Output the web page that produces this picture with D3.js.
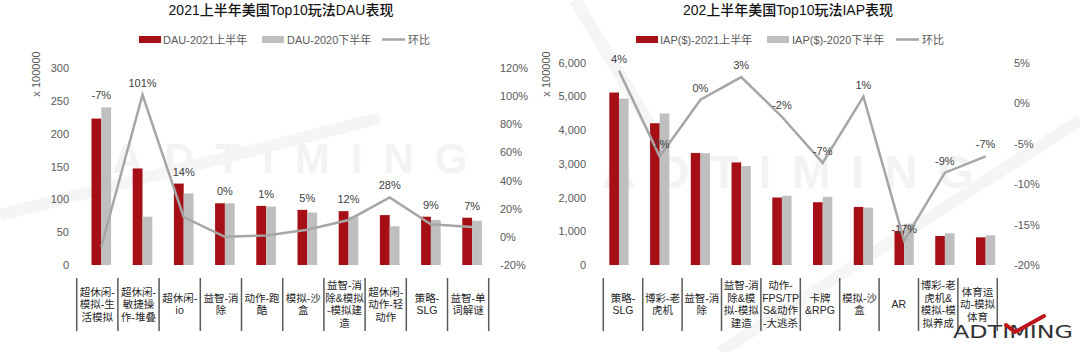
<!DOCTYPE html>
<html>
<head>
<meta charset="utf-8">
<script src="https://cdn.jsdelivr.net/npm/d3@7"></script>
<style>
  body { margin: 0; background: #fff; }
  svg { display: block; font-family: "Liberation Sans", "Noto Sans CJK SC", sans-serif; }
</style>
</head>
<body>
<svg id="chart" width="1080" height="352"></svg>
<script>
// ---- DAU chart data (x 100000) ----
var dauCategories = ["超休闲-\n模拟-生\n活模拟", "超休闲-\n敏捷操\n作-堆叠", "超休闲-\nio", "益智-消\n除", "动作-跑\n酷",
                     "模拟-沙\n盒", "益智-消\n除&模拟\n-模拟建\n造", "超休闲-\n动作-轻\n动作", "策略-\nSLG", "益智-单\n词解谜"];
var dau2021H1 = [223, 147, 124, 94, 90, 84, 82, 76, 73.5, 72];
var dau2020H2 = [240, 73.5, 109, 94, 89, 80, 73.5, 59, 68.5, 67.5];
var dauChange = [-0.07, 1.01, 0.14, 0, 0.01, 0.05, 0.12, 0.28, 0.09, 0.07];
var dauTicks = [0, 50, 100, 150, 200, 250, 300];
var dauPctTicks = [-0.2, 0, 0.2, 0.4, 0.6, 0.8, 1.0, 1.2];
var dauSeriesNames = ["DAU-2021上半年", "DAU-2020下半年", "环比"];

// ---- IAP chart data ($, x 100000) ----
var iapCategories = ["策略-\nSLG", "博彩-老\n虎机", "益智-消\n除", "益智-消\n除&模\n拟-模拟\n建造", "动作-\nFPS/TP\nS&动作\n-大逃杀",
                     "卡牌\n&RPG", "模拟-沙\n盒", "AR", "博彩-老\n虎机&\n模拟-模\n拟养成", "体育运\n动-模拟\n体育"];
var iap2021H1 = [5110, 4200, 3320, 3040, 2000, 1860, 1720, 1010, 860, 820];
var iap2020H2 = [4930, 4490, 3310, 2930, 2050, 2020, 1700, 1220, 940, 880];
var iapChange = [0.04, -0.066, 0.004, 0.032, -0.017, -0.074, 0.008, -0.17, -0.086, -0.066];
var iapTicks = [0, 1000, 2000, 3000, 4000, 5000, 6000];
var iapPctTicks = [-0.2, -0.15, -0.1, -0.05, 0, 0.05];
var iapSeriesNames = ["IAP($)-2021上半年", "IAP($)-2020下半年", "环比"];

var RED = "#a50f15", GRAY = "#bfbfbf", LINE = "#a6a6a6";
var pct = function(v) { return Math.round(v * 100) + "%"; };

var svg = d3.select("#chart");
svg.append("rect").attr("width", 1080).attr("height", 352).attr("fill", "#fff");

// faint watermark shapes
var wm = svg.append("g").attr("fill", "none").attr("stroke", "#f5f5f5").attr("stroke-width", 12);
wm.append("path").attr("d", "M0,215 L380,118");
wm.append("path").attr("d", "M575,0 L665,150");
wm.append("path").attr("d", "M720,352 L1080,120");

function drawChart(cfg) {
  var g = svg.append("g");

  // watermark text
  g.append("text")
    .attr("x", cfg.wmX).attr("y", cfg.wmY)
    .attr("text-anchor", "middle")
    .attr("font-size", cfg.wmSize).attr("font-weight", "bold")
    .attr("textLength", cfg.wmLen).attr("lengthAdjust", "spacing")
    .attr("fill", "#f3f3f3")
    .text("ADTIMING");

  // title
  g.append("text")
    .attr("x", cfg.titleX).attr("y", 15)
    .attr("text-anchor", "middle")
    .attr("font-size", 14).attr("font-weight", 500).attr("fill", "#111")
    .text(cfg.title);

  // legend
  var lg = g.append("g").attr("font-size", 11).attr("fill", "#595959");
  lg.append("rect").attr("x", cfg.legendX[0]).attr("y", 36).attr("width", 22).attr("height", 7).attr("fill", RED);
  lg.append("text").attr("x", cfg.legendX[0] + 24).attr("y", 43.5).text(cfg.names[0]);
  lg.append("rect").attr("x", cfg.legendX[1]).attr("y", 36).attr("width", 22).attr("height", 7).attr("fill", GRAY);
  lg.append("text").attr("x", cfg.legendX[1] + 25).attr("y", 43.5).text(cfg.names[1]);
  lg.append("line").attr("x1", cfg.legendX[2]).attr("x2", cfg.legendX[2] + 23).attr("y1", 39.5).attr("y2", 39.5)
    .attr("stroke", LINE).attr("stroke-width", 2.5);
  lg.append("text").attr("x", cfg.legendX[2] + 26).attr("y", 43.5).text(cfg.names[2]);

  // scales
  var x0 = d3.scaleBand().domain(cfg.categories).range(cfg.barRange);
  var bw = x0.bandwidth();
  var x1 = d3.scaleBand().domain(["cur", "prev"]).range([bw / 2 - cfg.pairW / 2, bw / 2 + cfg.pairW / 2]);
  var yL = d3.scaleLinear().domain(d3.extent(cfg.ticks)).range([265, cfg.top]);
  var yR = d3.scaleLinear().domain(d3.extent(cfg.pctTicks)).range([265, cfg.top]);
  var xT = d3.scaleBand().domain(cfg.categories).range(cfg.tableRange);

  // axes
  var axL = g.append("g").attr("transform", "translate(" + cfg.leftAxisX + ",0)")
    .call(d3.axisLeft(yL).tickValues(cfg.ticks).tickSize(0).tickPadding(0).tickFormat(cfg.tickFormat));
  var axR = g.append("g").attr("transform", "translate(" + cfg.rightAxisX + ",0)")
    .call(d3.axisRight(yR).tickValues(cfg.pctTicks).tickSize(0).tickPadding(0).tickFormat(pct));
  [axL, axR].forEach(function(a) {
    a.select(".domain").remove();
    a.selectAll("text").attr("font-size", 11).attr("fill", "#595959")
      .attr("font-family", "Liberation Sans, sans-serif");
  });

  // y-axis unit
  g.append("text")
    .attr("transform", "translate(" + cfg.unitX + ",74) rotate(-90)")
    .attr("text-anchor", "middle").attr("font-size", 11).attr("fill", "#595959")
    .text("x 100000");

  // bars
  var rows = cfg.categories.map(function(c, i) {
    return { cat: c, cur: cfg.cur[i], prev: cfg.prev[i], chg: cfg.change[i] };
  });
  var grp = g.selectAll(".grp").data(rows).enter().append("g")
    .attr("transform", function(d) { return "translate(" + x0(d.cat) + ",0)"; });
  grp.append("rect")
    .attr("x", x1("cur")).attr("width", x1.bandwidth())
    .attr("y", function(d) { return yL(d.cur); })
    .attr("height", function(d) { return yL(0) - yL(d.cur); })
    .attr("fill", RED);
  grp.append("rect")
    .attr("x", x1("prev")).attr("width", x1.bandwidth())
    .attr("y", function(d) { return yL(d.prev); })
    .attr("height", function(d) { return yL(0) - yL(d.prev); })
    .attr("fill", GRAY);

  // change line
  var cx = function(d) { return x0(d.cat) + bw / 2; };
  g.append("path").datum(rows)
    .attr("fill", "none").attr("stroke", LINE).attr("stroke-width", 2.5)
    .attr("stroke-linejoin", "miter")
    .attr("d", d3.line().x(cx).y(function(d) { return yR(d.chg); }));

  // data labels
  g.selectAll(".lbl").data(rows).enter().append("text")
    .attr("x", cx)
    .attr("y", function(d) {
      var y = yR(d.chg);
      if (cfg.labelAboveBars) y = Math.min(y, yL(Math.max(d.cur, d.prev)));
      return y - 8;
    })
    .attr("text-anchor", "middle").attr("font-size", 11).attr("fill", "#404040")
    .text(function(d) { return pct(d.chg); });

  // category table
  var step = xT.step();
  g.selectAll(".sep").data(d3.range(cfg.categories.length + 1)).enter().append("line")
    .attr("x1", function(i) { return cfg.tableRange[0] + i * step; })
    .attr("x2", function(i) { return cfg.tableRange[0] + i * step; })
    .attr("y1", 278).attr("y2", 331)
    .attr("stroke", "#595959").attr("stroke-width", 1.5);
  var cl = g.selectAll(".cl").data(cfg.categories).enter().append("text")
    .attr("text-anchor", "middle").attr("font-size", 10.5).attr("fill", "#262626");
  cl.each(function(c) {
    var lines = c.split("\n");
    var t = d3.select(this);
    lines.forEach(function(s, i) {
      t.append("tspan")
        .attr("x", xT(c) + step / 2)
        .attr("y", 304 + (i - (lines.length - 1) / 2) * 12.5 + 4)
        .text(s);
    });
  });
}

drawChart({
  title: "2021上半年美国Top10玩法DAU表现", titleX: 281,
  names: dauSeriesNames, legendX: [139, 262, 382],
  categories: dauCategories, cur: dau2021H1, prev: dau2020H2, change: dauChange,
  ticks: dauTicks, pctTicks: dauPctTicks, tickFormat: d3.format("d"), top: 68,
  barRange: [80.7, 492.7], pairW: 19.6, tableRange: [76.7, 488.7],
  leftAxisX: 69, rightAxisX: 500, unitX: 40, labelAboveBars: true,
  wmX: 290, wmY: 173, wmSize: 42, wmLen: 355
});

drawChart({
  title: "202上半年美国Top10玩法IAP表现", titleX: 788,
  names: iapSeriesNames, legendX: [636, 767, 896],
  categories: iapCategories, cur: iap2021H1, prev: iap2020H2, change: iapChange,
  ticks: iapTicks, pctTicks: iapPctTicks, tickFormat: d3.format(","), top: 62.5,
  barRange: [598.6, 1006], pairW: 19.3, tableRange: [603.3, 997.3],
  leftAxisX: 586, rightAxisX: 1014, unitX: 550, labelAboveBars: false,
  wmX: 788, wmY: 188, wmSize: 46, wmLen: 372
});

// logo bottom-right
var logo = svg.append("g");
logo.append("text")
  .attr("x", 1073).attr("y", 338).attr("text-anchor", "end")
  .attr("font-size", 18).attr("font-family", "DejaVu Sans, sans-serif")
  .attr("textLength", 120).attr("lengthAdjust", "spacingAndGlyphs")
  .attr("fill", "#333").text("ADTIMING");
logo.append("path")
  .attr("d", "M1006,325 L1015,332 L1044,316")
  .attr("fill", "none").attr("stroke", "#c0141c").attr("stroke-width", 4)
  .attr("stroke-linecap", "round").attr("stroke-linejoin", "round");
</script>
</body>
</html>
